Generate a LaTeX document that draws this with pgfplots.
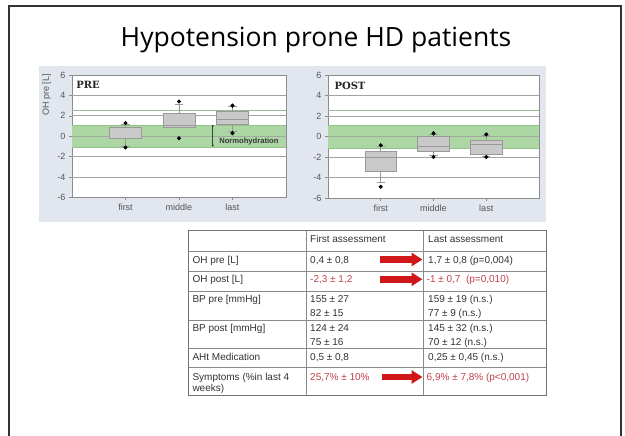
\documentclass[border=0pt]{standalone}
\usepackage{pgfplots}
\pgfplotsset{compat=1.18}
\usepgfplotslibrary{statistics}
\usetikzlibrary{arrows.meta}
\usepackage{fontspec}
\setmainfont{Liberation Sans}
\newfontfamily\titlefont{Open Sans}
\newfontfamily\labserif{DejaVu Serif}
\definecolor{panel}{HTML}{E1E6EF}
\definecolor{band}{HTML}{ACD6A4}
\definecolor{bandedge}{HTML}{92C48A}
\definecolor{gridc}{HTML}{A3A3A3}
\definecolor{limitc}{HTML}{9CB799}
\definecolor{axisc}{HTML}{8C8C8C}
\definecolor{tickc}{HTML}{555555}
\definecolor{boxfill}{HTML}{C9C9C9}
\definecolor{boxedge}{HTML}{999999}
\definecolor{tabtext}{HTML}{333333}
\definecolor{tabred}{HTML}{C0404A}
\definecolor{arrowred}{HTML}{D01818}
\definecolor{tabline}{HTML}{8A8A8A}

\pgfplotsset{
  ohaxis/.style={
    scale only axis, anchor=north west,
    xmin=0, xmax=4, ymin=-6, ymax=6,
    xtick={1,2,3}, xticklabels={first,middle,last},
    ytick={-6,-4,-2,0,2,4,6},
    xtick pos=bottom, ytick pos=left,
    tick align=outside, major tick length=3pt,
    tick style={draw=axisc, line width=0.6pt},
    axis line style={draw=axisc, line width=0.8pt},
    tick label style={font=\fontsize{9}{10}\selectfont, text=tickc},
    /pgf/number format/assume math mode=true,
    axis background/.style={fill=white},
    clip=false,
    boxplot/draw direction=y,
  },
  ohbox/.style={boxplot prepared={#1}, boxplot/draw direction=y, draw=boxedge, fill=boxfill, line width=0.7pt,
    mark=*, mark size=1.7pt, mark options={draw=black, fill=black, solid},
    boxplot/box extend=0.6, boxplot/whisker extend=0.16},
}

\newcommand{\grids}{%
  \fill[band] (axis cs:0,-1.1) rectangle (axis cs:4,1.1);
  \draw[bandedge, line width=0.5pt] (axis cs:0,-1.1) -- (axis cs:4,-1.1) (axis cs:0,1.1) -- (axis cs:4,1.1);
  \draw[gridc, line width=0.8pt] (axis cs:0,4) -- (axis cs:4,4) (axis cs:0,2) -- (axis cs:4,2)
     (axis cs:0,-2) -- (axis cs:4,-2) (axis cs:0,-4) -- (axis cs:4,-4);
  \draw[limitc, line width=0.8pt] (axis cs:0,2.55) -- (axis cs:4,2.55);
  \draw[gridc!80!bandedge, line width=0.8pt] (axis cs:0,0) -- (axis cs:4,0);
}

\begin{document}
\begin{tikzpicture}
\begin{scope}[x=1pt,y=-1pt]
\useasboundingbox (0,0) rectangle (625,436);
\fill[white] (0,0) rectangle (625,436);
\draw[black!80, line width=1.3pt] (9,445) -- (9,6) -- (621,6) -- (621,445);
\node[font=\titlefont\fontsize{26.5}{30}\selectfont, anchor=base, text=black, inner sep=0] at (316,46.7) {Hypotension prone HD patients};
\fill[panel] (39,66) rectangle (546,222);
\node[rotate=90, inner sep=0, font=\fontsize{9}{10}\selectfont, text=tickc] at (46.5,95) {OH pre [L]};
\end{scope}

% PRE
\begin{axis}[ohaxis, at={(72pt,-75pt)}, width=214pt, height=122.5pt]
\grids
\addplot[ohbox={draw position=1, lower whisker=-1.0, lower quartile=-0.2, median=0.9, upper quartile=0.9, upper whisker=1.15}]
  table[row sep=\\, y index=0] {y\\ 1.3\\ -1.1\\};
\addplot[ohbox={draw position=2, lower whisker=0.85, lower quartile=0.9, median=1.1, upper quartile=2.25, upper whisker=3.1}]
  table[row sep=\\, y index=0] {y\\ 3.4\\ -0.2\\};
\addplot[ohbox={draw position=3, lower whisker=0.5, lower quartile=1.15, median=1.65, upper quartile=2.4, upper whisker=2.9}]
  table[row sep=\\, y index=0] {y\\ 3.0\\ 0.3\\};
\draw[black!75, line width=0.7pt, {Circle[length=2pt]}-{Circle[length=2pt]}] (axis cs:2.63,1.1) -- (axis cs:2.63,-1.0);
\node[anchor=west, inner sep=0, font=\bfseries\fontsize{7.6}{9}\selectfont, text=black!78] at (axis cs:2.75,-0.55) {Normohydration};
\node[anchor=west, inner sep=0, font=\labserif\bfseries\fontsize{10}{12}\selectfont, text=black!85] at (rel axis cs:0.019,0.918) {PRE};
\end{axis}

% POST
\begin{axis}[ohaxis, at={(328pt,-75pt)}, width=211pt, height=123pt]
\grids
\addplot[ohbox={draw position=1, lower whisker=-4.5, lower quartile=-3.4, median=-2.0, upper quartile=-1.45, upper whisker=-1.0}]
  table[row sep=\\, y index=0] {y\\ -0.85\\ -4.9\\};
\addplot[ohbox={draw position=2, lower whisker=-1.8, lower quartile=-1.45, median=-1.0, upper quartile=0.0, upper whisker=0.25}]
  table[row sep=\\, y index=0] {y\\ 0.3\\ -2.0\\};
\addplot[ohbox={draw position=3, lower whisker=-1.9, lower quartile=-1.7, median=-0.8, upper quartile=-0.42, upper whisker=0.1}]
  table[row sep=\\, y index=0] {y\\ 0.2\\ -2.0\\};
\node[anchor=west, inner sep=0, font=\labserif\bfseries\fontsize{10}{12}\selectfont, text=black!85] at (rel axis cs:0.03,0.91) {POST};
\end{axis}

% table
\begin{scope}[x=1pt,y=-1pt, every node/.style={anchor=base west, inner sep=0, font=\fontsize{10}{12}\selectfont, text=tabtext}]
\foreach \y in {251,271,291,320,348,367.5}
  \draw[tabline, line width=0.6pt] (188,\y) -- (546,\y);
\draw[tabline, line width=0.6pt] (306,230) -- (306,395) (423.5,230) -- (423.5,395);
\draw[black!55, line width=0.9pt] (188,230) rectangle (546,395);
% arrows
\draw[arrowred, line width=6.6pt, -{Triangle[length=11pt, width=13pt]}] (380,259.5) -- (422.5,259.5);
\draw[arrowred, line width=6.6pt, -{Triangle[length=11pt, width=13pt]}] (380,279.3) -- (422.5,279.3);
\draw[arrowred, line width=6.6pt, -{Triangle[length=11pt, width=13pt]}] (382,377.0) -- (422.5,377.0);
% text
\node at (310,243) {First assessment};
\node at (428,243) {Last assessment};
\node at (192.3,263.1) {OH pre [L]};
\node at (310,263.1) {0,4 ± 0,8};
\node at (428,263.1) {1,7 ± 0,8 (p=0,004)};
\node at (192.3,282.9) {OH post [L]};
\node[text=tabred] at (310,282.9) {-2,3 ± 1,2};
\node[text=tabred] at (426.5,282.9) {-1 ± 0,7~~(p=0,010)};
\node at (192.3,302.6) {BP pre [mmHg]};
\node at (310,302.6) {155 ± 27};
\node at (310,316.9) {82 ± 15};
\node at (428,302.6) {159 ± 19 (n.s.)};
\node at (428,316.9) {77 ± 9 (n.s.)};
\node at (192.3,331.3) {BP post [mmHg]};
\node at (310,331.3) {124 ± 24};
\node at (310,345.3) {75 ± 16};
\node at (428,331.3) {145 ± 32 (n.s.)};
\node at (428,345.3) {70 ± 12 (n.s.)};
\node at (192.3,360.3) {AHt Medication};
\node at (310,360.3) {0,5 ± 0,8};
\node at (428,360.3) {0,25 ± 0,45 (n.s.)};
\node at (192.3,380.9) {Symptoms (\%in last 4};
\node at (192.3,391.9) {weeks)};
\node[text=tabred] at (310,380.9) {25,7\% ± 10\%};
\node[text=tabred] at (426.5,380.9) {6,9\% ± 7,8\% (p<0,001)};
\end{scope}
\end{tikzpicture}
\end{document}
